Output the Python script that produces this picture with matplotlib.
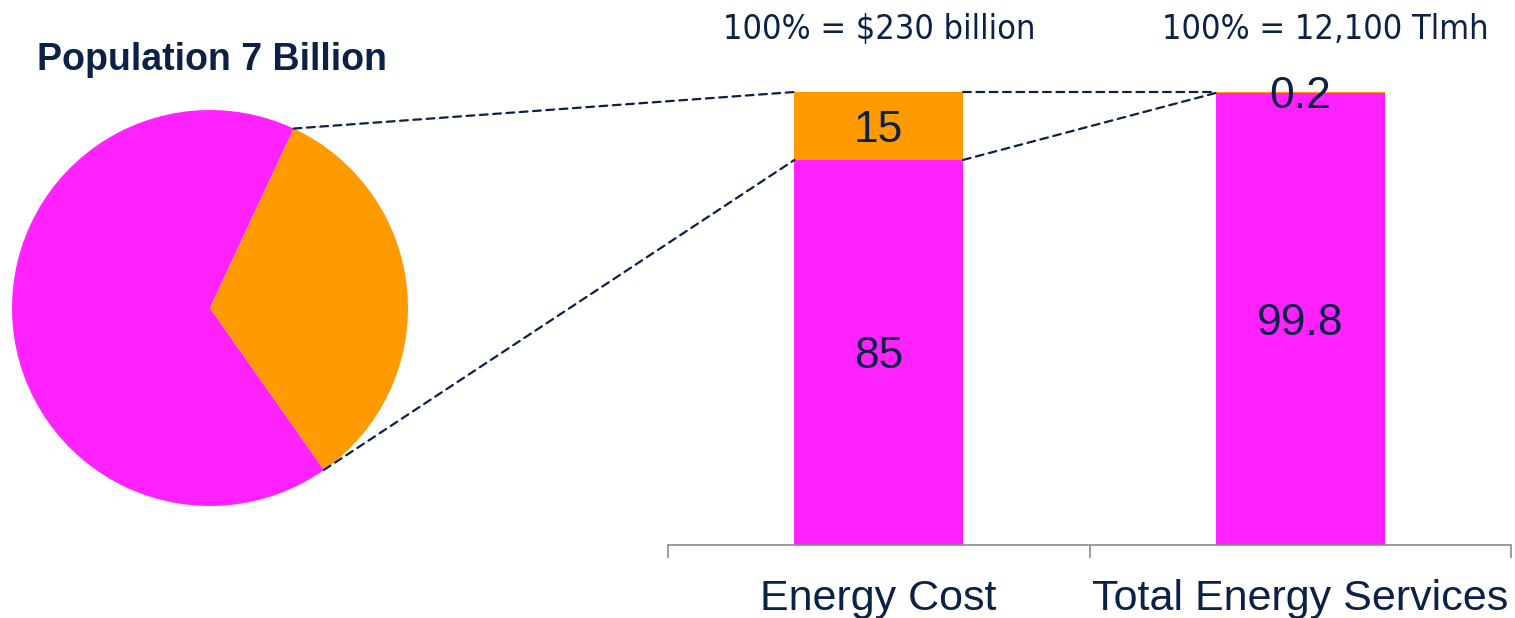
import matplotlib
matplotlib.use("Agg")
import matplotlib.pyplot as plt
from matplotlib.patches import ConnectionPatch
import numpy as np

# ---- data ----
pie_labels = ["Rest of population", "Energy-poor population"]
pie_shares = [66.7, 33.3]

categories = ["Energy Cost", "Total Energy Services"]
share_rest = [85, 99.8]
share_poor = [15, 0.2]
totals = ["100% = $230 billion", "100% = 12,100 Tlmh"]
pie_title = "Population 7 Billion"

# ---- styling ----
MAGENTA = "#FF22FF"
ORANGE = "#FF9A00"
NAVY = "#0B2145"
GRAY = "#8A8A8A"
SANS = ["Liberation Sans", "DejaVu Sans"]

W, H = 1515, 618
fig = plt.figure(figsize=(W / 100, H / 100), dpi=100)


def px_box(x0, y0, x1, y1):
    """Axes rectangle from pixel coordinates (top-left origin)."""
    return [x0 / W, 1 - y1 / H, (x1 - x0) / W, (y1 - y0) / H]


# ---- pie ----
cx, cy, r = 210, 308, 198
ax_pie = fig.add_axes(px_box(cx - r, cy - r, cx + r, cy + r))
wedges, _ = ax_pie.pie(pie_shares, colors=[MAGENTA, ORANGE], startangle=65,
                       counterclock=True, radius=1.0,
                       wedgeprops=dict(linewidth=0))
ax_pie.set_xlim(-1, 1)
ax_pie.set_ylim(-1, 1)
ax_pie.set_aspect("equal")
ax_pie.axis("off")

fig.text(37 / W, 1 - 70 / H, pie_title, fontsize=27, fontweight="bold",
         color=NAVY, family=SANS, ha="left", va="baseline")

# ---- stacked bars ----
ax = fig.add_axes(px_box(668, 92, 1511, 545))
x = np.arange(len(categories))
bw = 0.4
bars_rest = ax.bar(x, share_rest, width=bw, color=MAGENTA, linewidth=0)
bars_poor = ax.bar(x, share_poor, width=bw, bottom=share_rest, color=ORANGE,
                   linewidth=0)
ax.set_xlim(-0.5, 1.5)
ax.set_ylim(0, 100)

for s in ["top", "right", "left"]:
    ax.spines[s].set_visible(False)
ax.spines["bottom"].set_color(GRAY)
ax.spines["bottom"].set_linewidth(1.2)
ax.set_yticks([])
ax.set_xticks([-0.5, 0.5, 1.5])
ax.set_xticklabels([])
ax.tick_params(axis="x", length=9, width=1.2, color=GRAY, direction="out")

lab_y = (545 - 610) / 453
for xi, name in zip(x, categories):
    ax.text(xi, lab_y, name, transform=ax.get_xaxis_transform(), ha="center",
            va="baseline", fontsize=31, color=NAVY, family=SANS)

for xi, lo, hi in zip(x, share_rest, share_poor):
    for yc, val in [(lo / 2, lo), (lo + hi / 2, hi)]:
        ax.annotate(f"{val:g}", xy=(xi, yc), xytext=(0, -3),
                    textcoords="offset points", ha="center", va="center",
                    fontsize=32, color=NAVY, family=SANS)

top_x = [879 / W, 1325 / W]
for tx, t in zip(top_x, totals):
    fig.text(tx, 1 - 39 / H, t, ha="center", va="baseline", fontsize=24.6,
             color=NAVY, family="DejaVu Sans", fontstretch="condensed")

# ---- dashed connectors ----
dash = dict(color=NAVY, linewidth=1.6, linestyle=(0, (3.5, 2.5)))
w_poor = wedges[1]
a_top = np.deg2rad(w_poor.theta2)
a_bot = np.deg2rad(w_poor.theta1)
p_top = (w_poor.r * np.cos(a_top), w_poor.r * np.sin(a_top))
p_bot = (w_poor.r * np.cos(a_bot), w_poor.r * np.sin(a_bot))

b0 = bars_poor[0]
b1 = bars_poor[1]
b0_left = b0.get_x()
b0_right = b0.get_x() + b0.get_width()
b1_left = b1.get_x()

links = [
    (ax_pie, p_top, ax, (b0_left, b0.get_y() + b0.get_height())),
    (ax_pie, p_bot, ax, (b0_left, b0.get_y())),
    (ax, (b0_right, b0.get_y() + b0.get_height()), ax,
     (b1_left, b1.get_y() + b1.get_height())),
    (ax, (b0_right, b0.get_y()), ax, (b1_left, b1.get_y())),
]
for axa, pa, axb, pb in links:
    con = ConnectionPatch(xyA=pa, coordsA=axa.transData, xyB=pb,
                          coordsB=axb.transData, **dash)
    fig.add_artist(con)

fig.savefig("out.png", dpi=100, facecolor="white")
